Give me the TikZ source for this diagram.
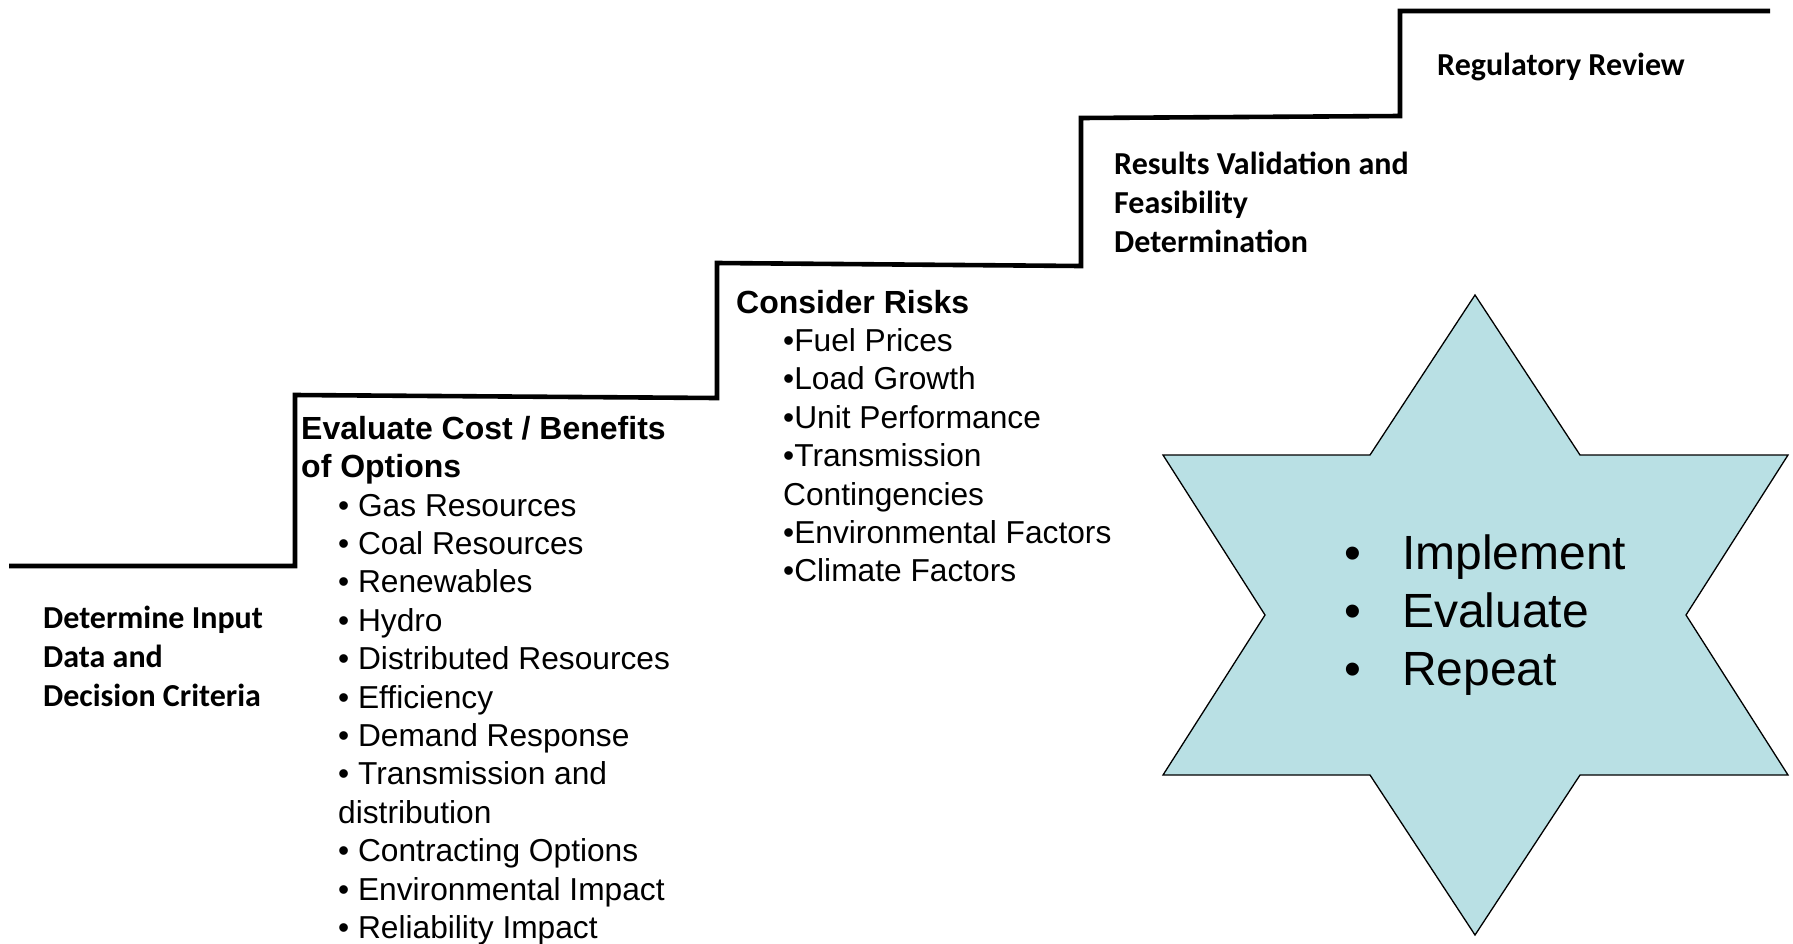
\documentclass[tikz,border=0pt]{standalone}
\usepackage{fontspec}
\setmainfont{Liberation Sans}
\newfontfamily\calibri{Carlito}
\definecolor{starblue}{RGB}{185,224,228}
\tikzset{
  stair/.style={line width=4.6pt, line join=miter},
  head/.style={anchor=base west, inner sep=0pt, font=\fontsize{32}{38.4}\selectfont\bfseries},
  item/.style={anchor=base west, inner sep=0pt, font=\fontsize{31.7}{38.4}\selectfont},
  stage/.style={anchor=base west, inner sep=0pt, font=\calibri\fontsize{32}{39}\selectfont\bfseries},
  hexstar/.style={fill=starblue, draw=black, line width=1.3pt, line join=miter},
  bigitem/.style={anchor=base west, inner sep=0pt, font=\fontsize{48}{58}\selectfont}
}
\begin{document}
\begin{tikzpicture}[x=1pt, y=-1pt]
      \useasboundingbox (0,0) rectangle (1793,943);
      % the stairs
      \draw[stair] (9,566) -- (295,566) -- (295,395) -- (717,398) -- (717,263)
        -- (1081,266) -- (1081,118) -- (1400,116) -- (1400,11) -- (1770,11);
      % the star
      \filldraw[hexstar] (1475,295) -- (1580,455) -- (1788,455) -- (1686,615)
        -- (1788,775) -- (1580,775) -- (1475,935) -- (1370,775) -- (1163,775)
        -- (1265,615) -- (1163,455) -- (1370,455) -- cycle;
      % stage labels
      \foreach \t [count=\i] in {Determine Input, Data and, Decision Criteria}
        \node[stage] (input\i) at (43, {628+39*(\i-1)}) {\t};
      \foreach \t [count=\i] in {Results Validation and, Feasibility, Determination}
        \node[stage] (valid\i) at (1114, {174+39*(\i-1)}) {\t};
      \node[stage] (review) at (1437,75) {Regulatory Review};
      % options
      \foreach \t [count=\i] in {Evaluate Cost / Benefits, of Options}
        \node[head] (eval\i) at (301, {439+38.4*(\i-1)}) {\t};
      \foreach \t [count=\i] in {• Gas Resources, • Coal Resources, • Renewables,
          • Hydro, • Distributed Resources, • Efficiency, • Demand Response,
          • Transmission and, distribution, • Contracting Options,
          • Environmental Impact, • Reliability Impact}
        \node[item] (opt\i) at (338, {516+38.4*(\i-1)}) {\t};
      % risks
      \node[head] (risks) at (736,313) {Consider Risks};
      \foreach \t [count=\i] in {•Fuel Prices, •Load Growth, •Unit Performance,
          •Transmission, Contingencies, •Environmental Factors, •Climate Factors}
        \node[item] (risk\i) at (783, {351.4+38.4*(\i-1)}) {\t};
      % inside the star
      \foreach \t [count=\i] in {Implement, Evaluate, Repeat}
        \node[bigitem] (loop\i) at (1344, {569+58*(\i-1)}) {\makebox[58pt][l]{•}\t};
    \end{tikzpicture}
\end{document}
